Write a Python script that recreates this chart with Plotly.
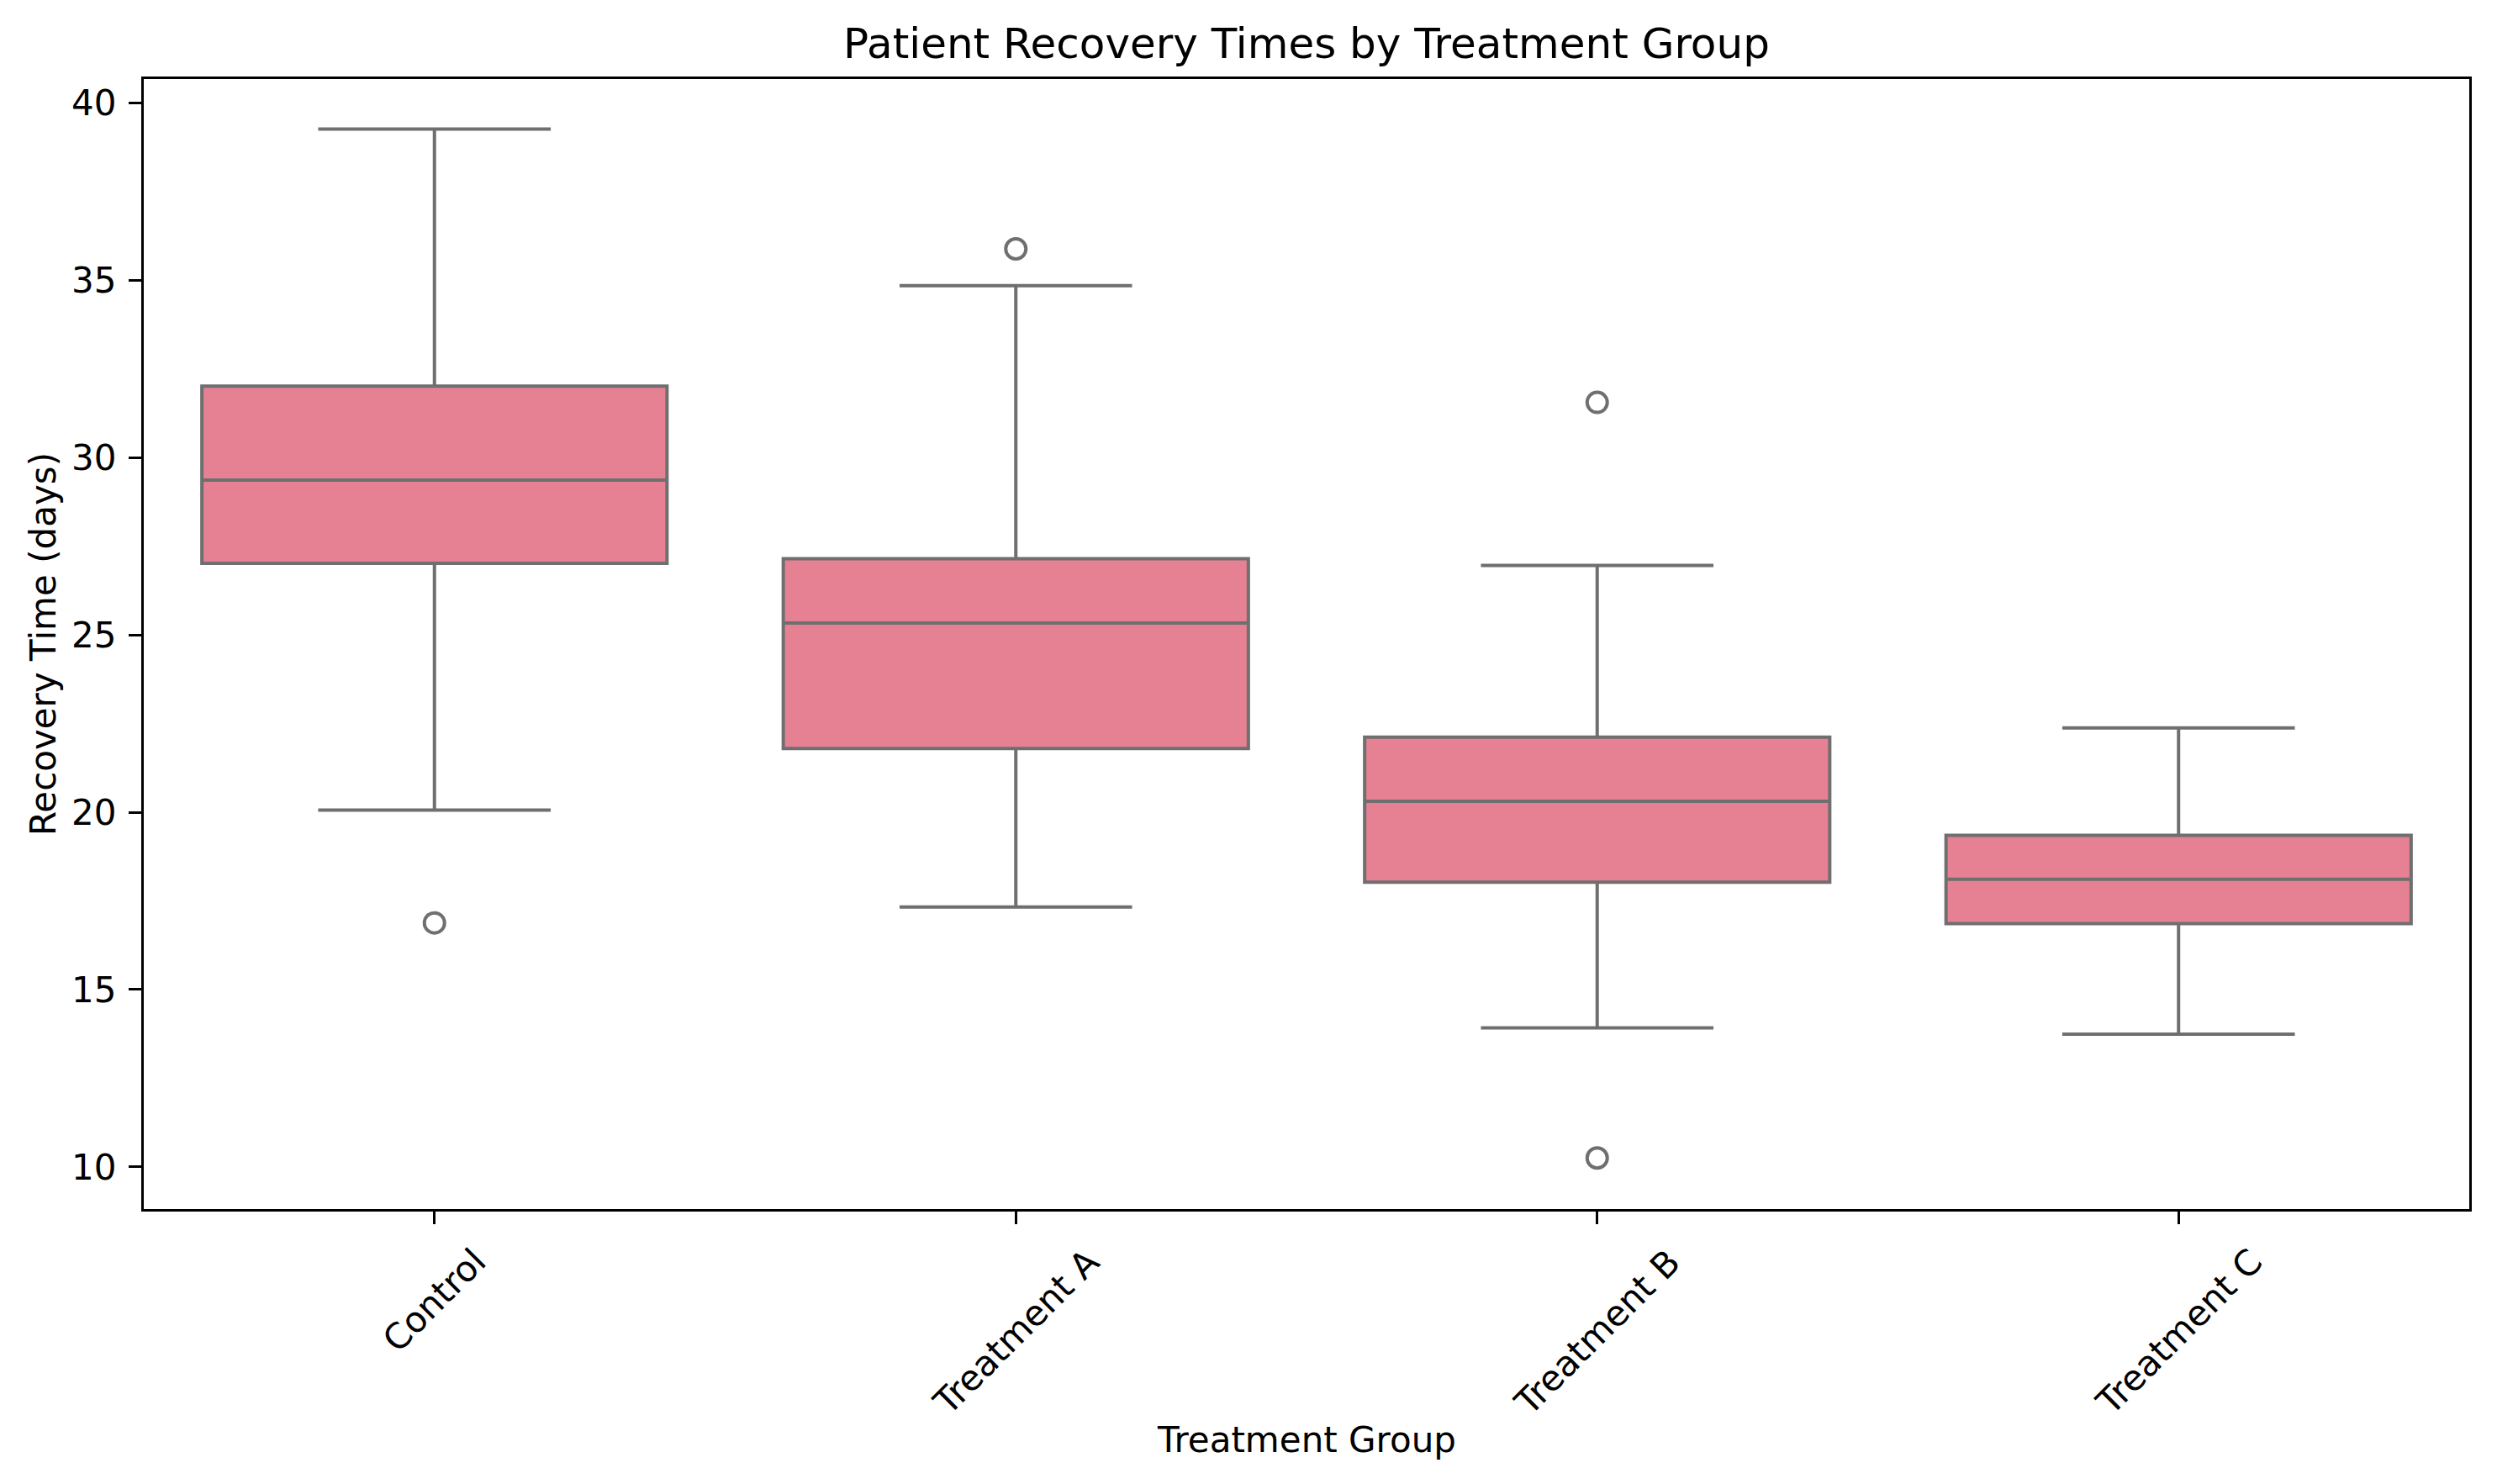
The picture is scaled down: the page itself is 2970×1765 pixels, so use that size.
import plotly.graph_objects as go

categories = ["Control", "Treatment A", "Treatment B", "Treatment C"]
q1_vals = [27.02, 21.80, 18.03, 16.86]
median_vals = [29.37, 25.34, 20.31, 18.11]
q3_vals = [32.02, 27.15, 22.12, 19.35]
lower_whisker = [20.06, 17.33, 13.92, 13.74]
upper_whisker = [39.27, 34.85, 26.96, 22.38]

outlier_groups = ["Control", "Treatment A", "Treatment B", "Treatment B"]
outlier_values = [16.88, 35.89, 31.56, 10.25]

y_ticks = [10, 15, 20, 25, 30, 35, 40]

FILL = "#e68193"
GRAY = "#6f6f6f"
FONT = "DejaVu Sans"

W, H = 2970, 1765
L, R, T, B = 171, 33, 94, 327

fig = go.Figure()
fig.add_trace(go.Box(
    x=categories, q1=q1_vals, median=median_vals, q3=q3_vals,
    lowerfence=lower_whisker, upperfence=upper_whisker,
    boxpoints=False, fillcolor=FILL, line=dict(color=GRAY, width=4),
    whiskerwidth=0.5, width=0.8, showlegend=False,
))
fig.add_trace(go.Scatter(
    x=outlier_groups, y=outlier_values, mode="markers",
    marker=dict(symbol="circle-open", size=24, color=GRAY, line=dict(color=GRAY, width=4)),
    showlegend=False,
))

axis_common = dict(
    showline=True, mirror=True, linecolor="black", linewidth=3.3,
    ticks="outside", ticklen=15, tickwidth=3.3, tickcolor="black",
    showgrid=False, zeroline=False,
    tickfont=dict(family=FONT, size=42, color="black"),
)

fig.update_xaxes(type="category", categoryorder="array", categoryarray=categories,
                 range=[-0.5, 3.5], showticklabels=False, **axis_common)
fig.update_yaxes(range=[8.81, 40.68], tickvals=y_ticks, ticklabelstandoff=6, **axis_common)

annotations = []
for c in categories:
    annotations.append(dict(
        x=c, xref="x", y=-(1473 - (H - B)) / (H - T - B), yref="paper",
        text=c, showarrow=False, textangle=-45, xanchor="center", yanchor="top",
        font=dict(family=FONT, size=42, color="black"),
    ))
annotations.append(dict(
    x=0.5, xref="paper", y=-(1712 - (H - B)) / (H - T - B), yref="paper",
    text="Treatment Group", showarrow=False, xanchor="center", yanchor="middle",
    font=dict(family=FONT, size=42, color="black"),
))
annotations.append(dict(
    x=(51 - L) / (W - L - R), xref="paper", y=0.5, yref="paper",
    text="Recovery Time (days)", showarrow=False, textangle=-90,
    xanchor="center", yanchor="middle",
    font=dict(family=FONT, size=42, color="black"),
))

fig.update_layout(
    width=W, height=H,
    margin=dict(l=L, r=R, t=T, b=B, autoexpand=False),
    paper_bgcolor="white", plot_bgcolor="white",
    title=dict(text="Patient Recovery Times by Treatment Group", x=0.5 * (L + W - R) / W * 0 + (L + (W - L - R) / 2) / W,
               xanchor="center", y=1 - 51 / H, yanchor="middle", yref="container", xref="container",
               font=dict(family=FONT, size=50, color="black")),
    annotations=annotations,
)

fig.write_html("out.html")
